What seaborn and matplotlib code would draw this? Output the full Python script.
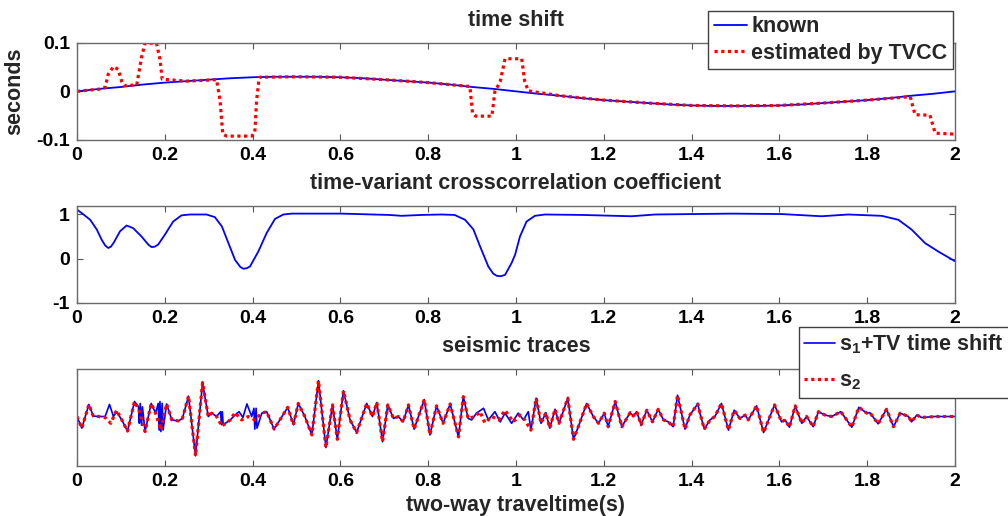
import numpy as np
import pandas as pd
import matplotlib
matplotlib.use("Agg")
import matplotlib.pyplot as plt
import seaborn as sns

# ---------------- data ----------------
# known time shift (s) on a 0.05 s grid
t_known = [0.00, 0.05, 0.10, 0.15, 0.20, 0.25, 0.30, 0.35, 0.40, 0.45,
           0.50, 0.55, 0.60, 0.65, 0.70, 0.75, 0.80, 0.85, 0.90, 0.95,
           1.00, 1.05, 1.10, 1.15, 1.20, 1.25, 1.30, 1.35, 1.40, 1.45,
           1.50, 1.55, 1.60, 1.65, 1.70, 1.75, 1.80, 1.85, 1.90, 1.95, 2.00]
shift_known = [0.000, 0.005, 0.009, 0.014, 0.018, 0.021, 0.024, 0.027, 0.029, 0.030,
               0.030, 0.030, 0.029, 0.027, 0.024, 0.021, 0.018, 0.014, 0.009, 0.005,
               0.000, -0.005, -0.009, -0.014, -0.018, -0.021, -0.024, -0.027, -0.029, -0.030,
               -0.030, -0.030, -0.029, -0.027, -0.024, -0.021, -0.018, -0.014, -0.009, -0.005, 0.000]

# time shift estimated by TVCC
t_est = [0.000, 0.056, 0.064, 0.071, 0.083, 0.094, 0.102, 0.107, 0.136, 0.147,
         0.155, 0.181, 0.189, 0.194, 0.250, 0.318, 0.326, 0.332, 0.341, 0.398,
         0.405, 0.409, 0.415, 0.500, 0.600, 0.700, 0.800, 0.895, 0.901, 0.908,
         0.945, 0.952, 0.964, 0.975, 1.013, 1.020, 1.028, 1.100, 1.200, 1.300,
         1.400, 1.500, 1.600, 1.700, 1.800, 1.898, 1.909, 1.943, 1.955, 2.000]
shift_est = [0.000, 0.005, 0.008, 0.035, 0.051, 0.045, 0.020, 0.012, 0.013, 0.070,
             0.099, 0.099, 0.066, 0.025, 0.021, 0.024, -0.020, -0.088, -0.092, -0.092,
             -0.085, -0.020, 0.029, 0.030, 0.029, 0.024, 0.018, 0.010, -0.045, -0.051,
             -0.051, 0.000, 0.020, 0.067, 0.067, 0.020, 0.001, -0.009, -0.018, -0.024,
             -0.029, -0.030, -0.029, -0.024, -0.018, -0.011, -0.048, -0.049, -0.086, -0.088]

# time-variant crosscorrelation coefficient
t_cc = [0.000, 0.011, 0.030, 0.045, 0.056, 0.064, 0.071, 0.077, 0.083, 0.098,
        0.113, 0.128, 0.147, 0.163, 0.170, 0.177, 0.185, 0.200, 0.219, 0.238,
        0.257, 0.295, 0.314, 0.330, 0.345, 0.360, 0.372, 0.379, 0.386, 0.394,
        0.413, 0.432, 0.451, 0.470, 0.489, 0.603, 0.710, 0.740, 0.785, 0.830,
        0.860, 0.884, 0.903, 0.918, 0.937, 0.948, 0.956, 0.965, 0.975, 0.990,
        0.998, 1.009, 1.024, 1.043, 1.066, 1.150, 1.263, 1.317, 1.491, 1.605,
        1.696, 1.757, 1.833, 1.871, 1.901, 1.932, 1.962, 2.000]
cc = [1.11, 1.03, 0.88, 0.66, 0.43, 0.30, 0.24, 0.27, 0.35, 0.62,
      0.75, 0.69, 0.50, 0.31, 0.26, 0.27, 0.32, 0.54, 0.84, 0.98,
      1.00, 1.00, 0.94, 0.73, 0.35, -0.03, -0.19, -0.23, -0.22, -0.18,
      0.16, 0.58, 0.90, 1.00, 1.02, 1.02, 0.99, 0.97, 0.99, 1.00,
      0.99, 0.88, 0.66, 0.28, -0.18, -0.34, -0.39, -0.40, -0.37, -0.10,
      0.09, 0.50, 0.84, 0.97, 1.00, 0.99, 0.96, 1.00, 1.02, 1.01,
      0.96, 1.00, 0.97, 0.88, 0.66, 0.35, 0.16, -0.06]

# seismic trace s2 (turning points)
t_s2 = [0.000, 0.011, 0.027, 0.037, 0.049, 0.064, 0.077, 0.090, 0.102, 0.115,
        0.131, 0.141, 0.155, 0.169, 0.179, 0.191, 0.204, 0.216, 0.231, 0.240,
        0.254, 0.270, 0.286, 0.299, 0.307, 0.318, 0.330, 0.349, 0.360, 0.375,
        0.390, 0.405, 0.421, 0.432, 0.449, 0.462, 0.480, 0.493, 0.504, 0.519,
        0.535, 0.550, 0.567, 0.582, 0.593, 0.607, 0.622, 0.637, 0.648, 0.660,
        0.673, 0.683, 0.696, 0.708, 0.721, 0.732, 0.743, 0.755, 0.768, 0.791,
        0.804, 0.819, 0.834, 0.850, 0.869, 0.880, 0.891, 0.907, 0.918, 0.929,
        0.945, 0.960, 0.975, 0.994, 1.009, 1.020, 1.034, 1.046, 1.057, 1.068,
        1.077, 1.089, 1.098, 1.118, 1.131, 1.142, 1.161, 1.176, 1.188, 1.201,
        1.210, 1.226, 1.241, 1.260, 1.267, 1.275, 1.285, 1.298, 1.311, 1.324,
        1.336, 1.347, 1.358, 1.368, 1.385, 1.396, 1.414, 1.419, 1.429, 1.442,
        1.453, 1.468, 1.484, 1.497, 1.510, 1.522, 1.529, 1.548, 1.564, 1.589,
        1.605, 1.613, 1.623, 1.636, 1.651, 1.662, 1.677, 1.689, 1.704, 1.719,
        1.740, 1.765, 1.781, 1.799, 1.806, 1.825, 1.844, 1.860, 1.875, 1.894,
        1.901, 1.913, 1.924, 1.955, 2.000]
a_s2 = [0.02, -0.22, 0.27, 0.03, 0.02, 0.00, -0.12, 0.15, -0.05, -0.28,
        0.33, 0.15, -0.29, 0.29, 0.09, -0.26, 0.28, -0.05, -0.07, -0.02,
        0.44, -0.79, 0.72, 0.02, 0.09, 0.02, -0.18, -0.05, 0.10, -0.05,
        0.02, -0.05, 0.09, 0.12, -0.24, -0.05, 0.21, -0.15, 0.29, 0.02,
        -0.36, 0.76, -0.62, 0.26, -0.45, 0.55, -0.05, -0.31, -0.02, 0.29,
        0.02, 0.31, -0.50, 0.26, -0.02, 0.02, -0.09, 0.26, -0.24, 0.37,
        -0.36, 0.24, -0.12, 0.28, -0.40, 0.43, -0.02, 0.02, 0.12, -0.11,
        0.02, -0.05, 0.15, -0.09, 0.05, -0.05, -0.26, 0.40, -0.12, 0.10,
        -0.22, 0.17, -0.12, 0.40, -0.45, -0.19, 0.29, 0.02, -0.12, 0.09,
        -0.19, 0.33, -0.19, 0.10, 0.03, 0.12, -0.15, 0.15, -0.09, 0.17,
        -0.05, -0.09, -0.19, 0.46, -0.24, 0.05, 0.28, 0.09, -0.24, -0.05,
        0.02, 0.29, -0.26, 0.15, -0.02, 0.05, -0.05, 0.24, -0.31, 0.26,
        -0.09, -0.05, -0.20, 0.24, -0.12, 0.02, -0.19, 0.12, 0.05, 0.02,
        0.12, -0.20, 0.21, 0.09, 0.10, -0.13, 0.17, -0.19, 0.09, 0.02,
        -0.09, 0.05, 0.00, 0.02, 0.02]

# s1 + known shift departs from s2 only inside these windows
s1_windows = [(0.060, 0.100), (0.138, 0.152), (0.183, 0.200),
              (0.325, 0.336), (0.355, 0.414), (0.895, 1.030)]
t_s1_own = [0.064, 0.074, 0.083, 0.090, 0.097,
            0.140, 0.142, 0.144, 0.147, 0.149,
            0.185, 0.187, 0.189, 0.191, 0.194, 0.196,
            0.327, 0.329, 0.331, 0.333,
            0.360, 0.369, 0.378, 0.387, 0.398, 0.403, 0.405, 0.408, 0.410,
            0.899, 0.910, 0.926, 0.937, 0.952, 0.964, 0.975, 0.990, 1.005, 1.017, 1.028]
a_s1_own = [0.02, 0.27, 0.02, 0.12, 0.02,
            0.22, -0.12, 0.29, -0.16, 0.22,
            0.29, -0.26, 0.33, -0.29, 0.29, -0.26,
            0.12, -0.15, 0.12, -0.15,
            0.05, 0.12, 0.00, 0.28, 0.02, 0.19, -0.24, 0.19, -0.22,
            -0.05, 0.09, 0.19, -0.05, 0.12, -0.09, 0.09, -0.12, 0.09, -0.05, 0.12]

xticks = [0, 0.2, 0.4, 0.6, 0.8, 1.0, 1.2, 1.4, 1.6, 1.8, 2.0]
xtick_labels = ["0", "0.2", "0.4", "0.6", "0.8", "1", "1.2", "1.4", "1.6", "1.8", "2"]

# assemble s1 from the shared parts of s2 plus its own samples
s2 = pd.DataFrame({"t": t_s2, "a": a_s2})
inside = np.zeros(len(s2), dtype=bool)
for lo, hi in s1_windows:
    inside |= (s2["t"] > lo) & (s2["t"] < hi)
s1 = pd.concat([s2[~inside], pd.DataFrame({"t": t_s1_own, "a": a_s1_own})]).sort_values("t")

# ---------------- style ----------------
sns.set_theme(style="ticks")
plt.rcParams["font.family"] = ["Liberation Sans", "DejaVu Sans"]
plt.rcParams["font.weight"] = "bold"
plt.rcParams["axes.titleweight"] = "bold"
plt.rcParams["axes.labelweight"] = "bold"
plt.rcParams["mathtext.fontset"] = "custom"
plt.rcParams["mathtext.rm"] = "Liberation Sans:bold"
plt.rcParams["mathtext.bf"] = "Liberation Sans:bold"
plt.rcParams["mathtext.it"] = "Liberation Sans:bold"
plt.rcParams["mathtext.default"] = "bf"

BLUE = "#0000ff"
RED = "#ff0000"
DOT = (0, (1.0, 1.1))
FS = 15.5      # titles, labels, legends
TICK_FS = 14   # tick labels

fig = plt.figure(figsize=(10.08, 5.16), dpi=100)
ax1 = fig.add_axes([0.0764, 0.7287, 0.871, 0.1885])
ax2 = fig.add_axes([0.0764, 0.4134, 0.871, 0.1880])
ax3 = fig.add_axes([0.0764, 0.0969, 0.871, 0.1880])


def style_axis(ax):
    ax.set_xlim(0, 2)
    ax.set_xticks(xticks)
    ax.set_xticklabels(xtick_labels)
    ax.tick_params(direction="in", length=4, width=0.8, color="#555555",
                   bottom=True, left=True, top=True, right=True,
                   labelsize=TICK_FS, pad=5, labelcolor="black")
    for s in ax.spines.values():
        s.set_visible(True)
        s.set_color("#6a6a6a")
        s.set_linewidth(1.0)
    for lab in ax.get_xticklabels() + ax.get_yticklabels():
        lab.set_fontweight("bold")
    ax.set_xlabel("")
    ax.set_ylabel("")


# panel 1: time shift
sns.lineplot(x=t_known, y=shift_known, ax=ax1, color=BLUE, lw=1.3,
             label="known", estimator=None, sort=False)
sns.lineplot(x=t_est, y=shift_est, ax=ax1, color=RED, lw=2.3, linestyle=DOT,
             label="estimated by TVCC", estimator=None, sort=False)
ax1.set_ylim(-0.1, 0.1)
ax1.set_yticks([-0.1, 0, 0.1])
ax1.set_yticklabels(["-0.1", "0", "0.1"])
style_axis(ax1)
ax1.set_ylabel("seconds", fontsize=FS, fontweight="bold", labelpad=8)
ax1.set_title("time shift", fontsize=FS, fontweight="bold", pad=12)
ax1.legend(loc="upper right", bbox_to_anchor=(953 / 1008, 1 - 11 / 516),
           bbox_transform=fig.transFigure, fontsize=FS, frameon=True,
           fancybox=False, edgecolor="#404040", framealpha=1,
           handlelength=1.55, handletextpad=0.2, borderpad=0.25,
           labelspacing=0.25, borderaxespad=0)

# panel 2: time-variant crosscorrelation coefficient
sns.lineplot(x=t_cc, y=cc, ax=ax2, color=BLUE, lw=1.3,
             estimator=None, sort=False, legend=False)
ax2.set_ylim(-1, 1.2)
ax2.set_yticks([-1, 0, 1])
ax2.set_yticklabels(["-1", "0", "1"])
style_axis(ax2)
ax2.set_title("time-variant crosscorrelation coefficient", fontsize=FS,
              fontweight="bold", pad=12)

# panel 3: seismic traces
sns.lineplot(data=s1, x="t", y="a", ax=ax3, color=BLUE, lw=1.2,
             label="s$_1$+TV time shift", estimator=None, sort=False)
sns.lineplot(data=s2, x="t", y="a", ax=ax3, color=RED, lw=2.3, linestyle=DOT,
             label="s$_2$", estimator=None, sort=False)
ax3.set_ylim(-1, 1)
ax3.set_yticks([])
style_axis(ax3)
ax3.set_title("seismic traces", fontsize=FS, fontweight="bold", pad=12)
ax3.set_xlabel("two-way traveltime(s)", fontsize=FS, fontweight="bold", labelpad=4)
ax3.legend(loc="upper left", bbox_to_anchor=(799 / 1008, 1 - 327 / 516),
           bbox_transform=fig.transFigure, fontsize=FS, frameon=True,
           fancybox=False, edgecolor="#404040", framealpha=1,
           handlelength=1.4, handletextpad=0.2, borderpad=0.25,
           labelspacing=0.68, borderaxespad=0)

fig.savefig("out.png", dpi=100)
